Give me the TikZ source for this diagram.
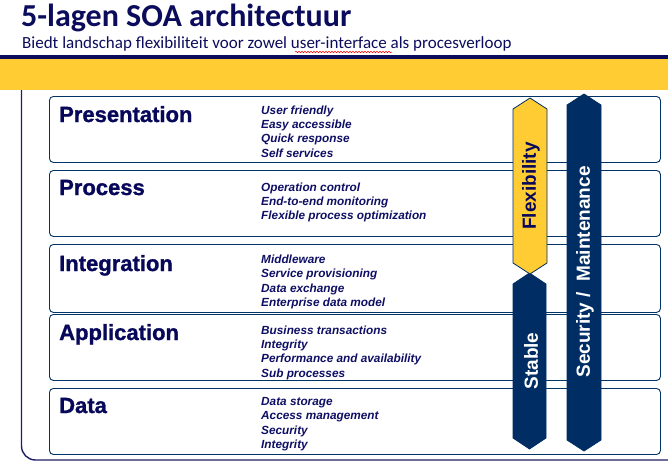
\documentclass[tikz,border=0pt]{standalone}
\usepackage{fontspec}
\setmainfont{Liberation Sans}
\newfontfamily\carlito{Carlito}
\newfontfamily\heavyfont{Liberation Sans Bold}[FakeBold=1.2]
\usetikzlibrary{decorations.pathmorphing}
\definecolor{titlenavy}{RGB}{12,12,92}
\definecolor{boxnavy}{RGB}{0,51,102}
\definecolor{textnavy}{RGB}{14,14,100}
\definecolor{labelnavy}{RGB}{8,8,90}
\definecolor{barnavy}{RGB}{0,46,100}
\definecolor{soayellow}{RGB}{255,204,51}
\definecolor{framenavy}{RGB}{30,30,100}
\tikzset{
  layerbox/.style={draw=boxnavy, line width=0.9pt, rounded corners=4pt, anchor=north west,
    minimum width=611pt, minimum height=66pt, inner sep=0pt},
  layerlabel/.style={anchor=base west, inner sep=0pt, text=labelnavy,
    font=\heavyfont\fontsize{22}{26}\selectfont},
  desc/.style={anchor=base west, inner sep=0pt, text=textnavy,
    font=\fontsize{11.8}{14}\selectfont\bfseries\itshape},
  barlabel/.style={rotate=90, inner sep=0pt, font=\fontsize{19}{22}\selectfont\bfseries},
  hexyellow/.style={fill=soayellow, draw=barnavy, line width=0.8pt},
  hexnavy/.style={fill=barnavy, draw=barnavy, line width=0.8pt},
}
\begin{document}
\begin{tikzpicture}[x=1pt,y=-1pt]
\useasboundingbox (0,0) rectangle (668,469);
% header
\node[anchor=base west, inner sep=0pt, text=titlenavy, font=\carlito\fontsize{32}{36}\selectfont\bfseries] (title) at (21,26) {5-lagen SOA architectuur};
\node[anchor=base west, inner sep=0pt, text=titlenavy, font=\carlito\fontsize{17}{20}\selectfont] (subtitle) at (22,48.3) {Biedt landschap flexibiliteit voor zowel user-interface als procesverloop};
\draw[red, line width=0.5pt, decorate, decoration={snake, amplitude=0.7pt, segment length=3pt}] (295,52) -- (392,52);
\fill[titlenavy] (0,54.5) rectangle (668,59);
\fill[soayellow] (0,59) rectangle (668,90);
% frame
\draw[framenavy, line width=1.4pt, rounded corners=14pt] (21.5,90) -- (21.5,460) -- (668,460);
% layers
\node[layerbox] (presentation) at (49,96) {};
\node[layerbox] (process) at (49,170) {};
\node[layerbox, minimum height=68pt] (integration) at (49,244) {};
\node[layerbox] (application) at (49,314) {};
\node[layerbox] (data) at (49,388) {};
\node[layerlabel] (presentation-label) at (59,122) {Presentation};
\node[layerlabel] (process-label) at (59,195) {Process};
\node[layerlabel] (integration-label) at (59,271) {Integration};
\node[layerlabel] (application-label) at (59,340) {Application};
\node[layerlabel] (data-label) at (59,413) {Data};
% descriptions
\foreach \t [count=\i] in {User friendly, Easy accessible, Quick response, Self services}
  \node[desc] (pres-d\i) at (261,114.3+14.3*\i-14.3) {\t};
\foreach \t [count=\i] in {Operation control, End-to-end  monitoring, Flexible  process optimization}
  \node[desc] (proc-d\i) at (261,191.7+14*\i-14) {\t};
\foreach \t [count=\i] in {Middleware, Service provisioning, Data exchange, Enterprise data model}
  \node[desc] (integ-d\i) at (261,263.3+14.4*\i-14.4) {\t};
\foreach \t [count=\i] in {Business  transactions, Integrity, Performance and availability, Sub  processes}
  \node[desc] (app-d\i) at (261,334.3+14.3*\i-14.3) {\t};
\foreach \t [count=\i] in {Data storage, Access management, Security, Integrity}
  \node[desc] (data-d\i) at (261,405.7+14.2*\i-14.2) {\t};
% vertical bars
\path[hexnavy] (513,284) -- (529.5,273) -- (546,284) -- (546,438) -- (529.5,449) -- (513,438) -- cycle;
\path[hexyellow] (513,109) -- (530,98) -- (547,109) -- (547,263) -- (530,274) -- (513,263) -- cycle;
\path[hexnavy] (567,105) -- (584,94) -- (601,105) -- (601,440) -- (584,451) -- (567,440) -- cycle;
\node[barlabel, text=labelnavy] (flexibility) at (531,186) {Flexibility};
\node[barlabel, text=white] (stable) at (531,361) {Stable};
\node[barlabel, text=white] (security) at (585,272) {Security /\ \ Maintenance};
\end{tikzpicture}
\end{document}
